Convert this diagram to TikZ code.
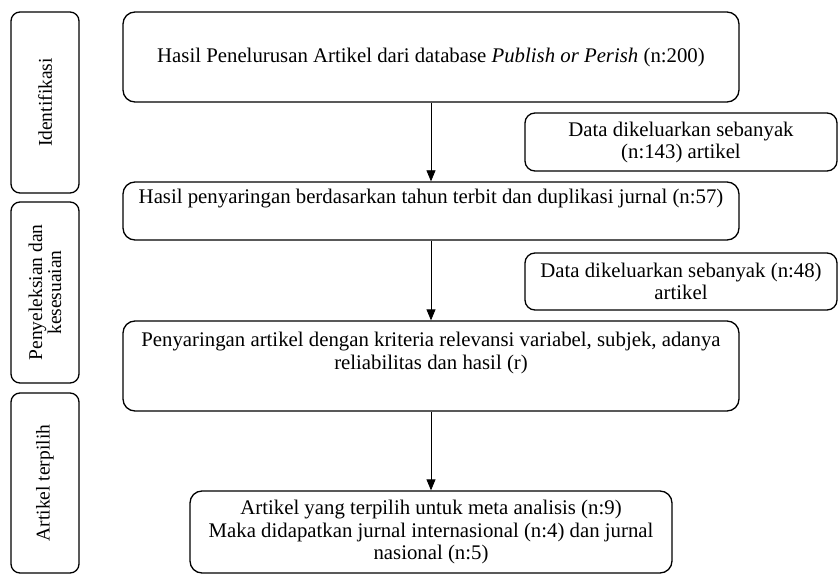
\documentclass[tikz,border=0pt]{standalone}
\usepackage{fontspec}
\setmainfont{Liberation Serif}
\usetikzlibrary{arrows.meta}
\tikzset{
  mainbox/.style={draw=black, line width=1.3pt, rounded corners=12pt, align=center, inner sep=0pt,
    font=\fontsize{20.8}{23}\selectfont},
  databox/.style={draw=black, line width=1.3pt, rounded corners=10pt, align=center, inner sep=0pt,
    font=\fontsize{20.8}{22}\selectfont},
  sidebox/.style={draw=black, line width=1.3pt, rounded corners=9pt, align=center, inner sep=0pt,
    rotate=90, font=\fontsize{19.5}{19}\selectfont},
  flow/.style={line width=0.8pt, -{Triangle[length=11pt,width=9pt]}}
}
\begin{document}
\begin{tikzpicture}[x=1pt,y=-1pt]
\useasboundingbox (0,0) rectangle (839,575);
% side boxes
\node[sidebox, minimum width=181, minimum height=68] (s1) at (45,102.5) {Identifikasi};
\node[sidebox, minimum width=181, minimum height=68] (s2) at (45,292.5) {Penyeleksian dan\\kesesuaian};
\node[sidebox, minimum width=180, minimum height=68] (s3) at (45,483) {Artikel terpilih};
% main boxes
\node[mainbox, minimum width=616, minimum height=90] (m1) at (431,57)
  {Hasil Penelurusan Artikel dari database \textit{Publish or Perish} (n:200)};
\node[mainbox, minimum width=616, minimum height=58] (m2) at (431,211)
  {Hasil penyaringan berdasarkan tahun terbit dan duplikasi jurnal (n:57)\\\strut};
\node[mainbox, minimum width=616, minimum height=90] (m3) at (431,366)
  {Penyaringan artikel dengan kriteria relevansi variabel, subjek, adanya\\reliabilitas dan hasil (r)\\\strut};
\node[mainbox, minimum width=482, minimum height=82, font=\fontsize{20.8}{22.5}\selectfont] (m4) at (431,532)
  {Artikel yang terpilih untuk meta analisis (n:9)\\Maka didapatkan jurnal internasional (n:4) dan jurnal\\nasional (n:5)};
% excluded boxes
\node[databox, minimum width=312, minimum height=58] (d1) at (681,142)
  {Data dikeluarkan sebanyak\\(n:143) artikel};
\node[databox, minimum width=312, minimum height=57] (d2) at (681,281.5)
  {Data dikeluarkan sebanyak (n:48)\\artikel};
% arrows
\draw[flow] (m1.south) -- (m2.north);
\draw[flow] (m2.south) -- (m3.north);
\draw[flow] (m3.south) -- (m4.north);
\end{tikzpicture}
\end{document}
